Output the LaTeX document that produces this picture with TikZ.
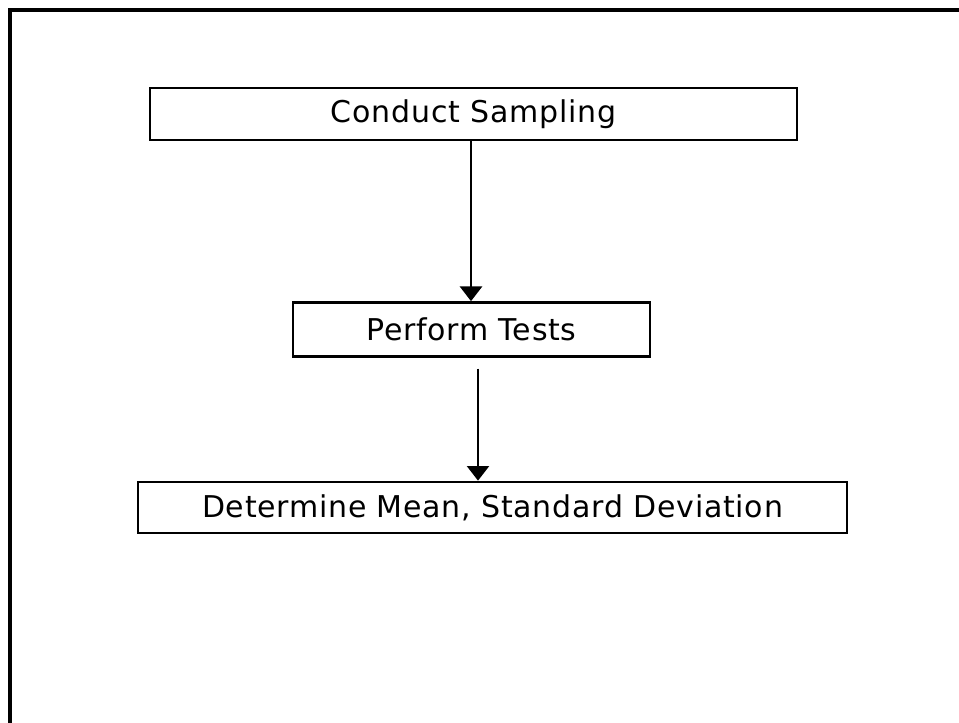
\documentclass[tikz,border=0pt]{standalone}
\usepackage{fontspec}
\setmainfont{DejaVu Sans}[LetterSpace=2.5]
\usetikzlibrary{arrows.meta}
\begin{document}
\begin{tikzpicture}[x=0.75pt,y=-0.75pt,
  stepbox/.style={draw=black,line width=2pt,inner sep=0pt,font=\fontsize{22.5}{27}\selectfont,text=black},
  arr/.style={line width=1.8pt,-{Triangle[width=16.5pt,length=11pt]}},
  frame/.style={line width=2.6pt,draw=black}]
\useasboundingbox (0,0) rectangle (959,723);
\fill[white] (0,0) rectangle (959,723);
\draw[frame] (10,730) -- (10,10) -- (965,10);
\node[stepbox,minimum width=647*0.75pt,minimum height=52*0.75pt] (cs) at (473.5,114) {Conduct Sampling};
\node[stepbox,minimum width=357*0.75pt,minimum height=54*0.75pt] (pt) at (471.5,329.5) {Perform Tests};
\node[stepbox,minimum width=709*0.75pt,minimum height=51*0.75pt] (dm) at (492.5,507.5) {Determine Mean, Standard Deviation};
\coordinate (a1) at (471,0);
\coordinate (a2) at (478,0);
\draw[arr] (cs.south -| a1) -- (pt.north -| a1);
\draw[arr,shorten <=8pt] (pt.south -| a2) -- (dm.north -| a2);
\end{tikzpicture}
\end{document}
